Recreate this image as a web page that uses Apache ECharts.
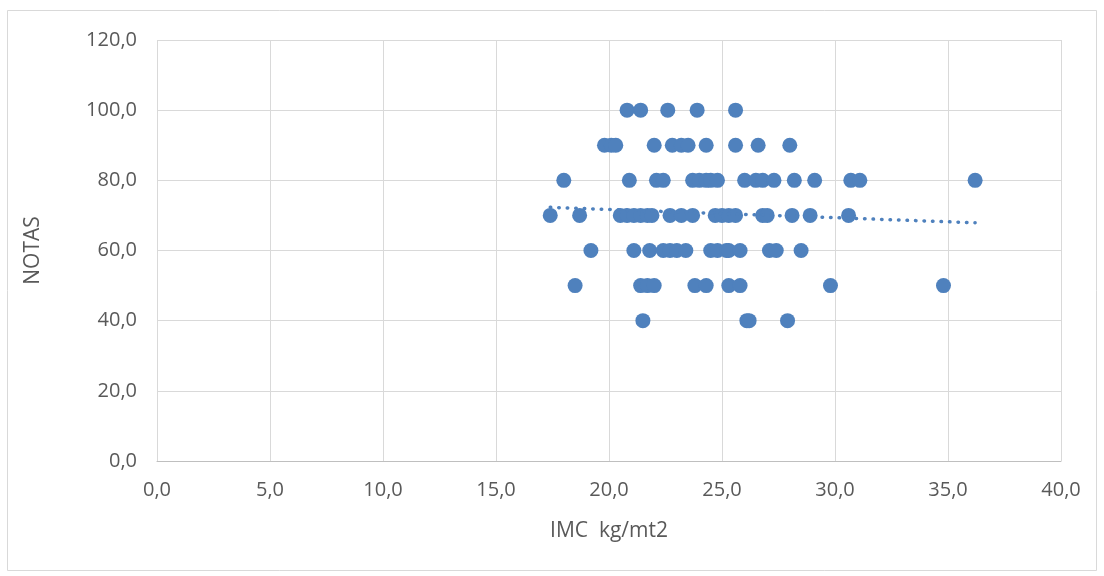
<!DOCTYPE html>
<html>
<head>
<meta charset="utf-8">
<title>NOTAS vs IMC</title>
<script src="https://cdn.jsdelivr.net/npm/echarts@6/dist/echarts.min.js"></script>
<style>
  html, body { margin: 0; padding: 0; background: #fff; }
  #chart { width: 1104px; height: 576px; }
</style>
</head>
<body>
<div id="chart"></div>
<script>
// IMC values (kg/mt2) for each grade
var imc100 = [20.8, 21.4, 22.6, 23.9, 25.6];
var imc90 = [19.8, 20.1, 20.3, 22.0, 22.8, 23.2, 23.5, 24.3, 25.6, 26.6, 28.0];
var imc80 = [18.0, 20.9, 22.1, 22.4, 23.7, 24.0, 24.3, 24.5, 24.8, 26.0, 26.5, 26.8, 27.3, 28.2, 29.1, 30.7, 31.1, 36.2];
var imc70 = [17.4, 18.7, 20.5, 20.8, 21.1, 21.4, 21.7, 21.9, 22.7, 23.2, 23.7, 24.7, 25.0, 25.3, 25.6, 26.8, 27.0, 28.1, 28.9, 30.6];
var imc60 = [19.2, 21.1, 21.8, 22.4, 22.7, 23.0, 23.4, 24.5, 24.8, 25.2, 25.3, 25.8, 27.1, 27.4, 28.5];
var imc50 = [18.5, 21.4, 21.7, 22.0, 23.8, 24.3, 25.3, 25.8, 29.8, 34.8];
var imc40 = [21.5, 26.1, 26.2, 27.9];

var grades = [100, 90, 80, 70, 60, 50, 40];
var groups = [imc100, imc90, imc80, imc70, imc60, imc50, imc40];

// linear trendline ends as drawn in the picture
var trendX = [17.4, 36.2];
var trendY = [72.3, 67.9];

var points = [];
groups.forEach(function (g, i) {
  g.forEach(function (x) { points.push([x, grades[i]]); });
});
var trend = trendX.map(function (x, i) { return [x, trendY[i]]; });

function comma(v) { return v.toFixed(1).replace('.', ','); }

var textColor = '#595959';
var font = '"Open Sans", "Noto Sans", sans-serif';

var chart = echarts.init(document.getElementById('chart'));

var option = {
  backgroundColor: '#ffffff',
  animation: false,
  textStyle: { fontFamily: font },
  graphic: [{
    type: 'rect',
    shape: { x: 7.5, y: 10.5, width: 1089, height: 560 },
    style: { fill: 'none', stroke: '#d9d9d9', lineWidth: 1 },
    silent: true
  }],
  grid: {
    left: 157,
    right: 43,
    top: 40,
    bottom: 115
  },
  xAxis: {
    type: 'value',
    min: 0,
    max: 40,
    interval: 5,
    name: 'IMC  kg/mt2',
    nameLocation: 'middle',
    nameGap: 60,
    nameTextStyle: { color: textColor, fontSize: 21, fontFamily: font },
    axisLine: { show: true, lineStyle: { color: '#bfbfbf', width: 1 } },
    axisTick: { show: false },
    axisLabel: { color: textColor, fontSize: 20, margin: 19, formatter: comma, fontFamily: font },
    splitLine: { show: true, lineStyle: { color: '#d9d9d9', width: 1 } }
  },
  yAxis: {
    type: 'value',
    min: 0,
    max: 120,
    interval: 20,
    name: 'NOTAS',
    nameLocation: 'middle',
    nameGap: 113,
    nameRotate: 90,
    nameTextStyle: { color: textColor, fontSize: 21, fontFamily: font },
    axisLine: { show: false },
    axisTick: { show: false },
    axisLabel: { color: textColor, fontSize: 20, margin: 20, formatter: comma, fontFamily: font },
    splitLine: { show: true, lineStyle: { color: '#d9d9d9', width: 1 } }
  },
  series: [
    {
      name: 'NOTAS',
      type: 'scatter',
      data: points,
      symbol: 'circle',
      symbolSize: 15,
      itemStyle: { color: '#4f81bd', opacity: 1 }
    },
    {
      name: 'Lineal (NOTAS)',
      type: 'line',
      data: trend,
      symbol: 'none',
      silent: true,
      z: 3,
      lineStyle: {
        color: '#4f81bd',
        width: 3.5,
        type: [0.5, 8],
        cap: 'round'
      }
    }
  ]
};

chart.setOption(option);
</script>
</body>
</html>
